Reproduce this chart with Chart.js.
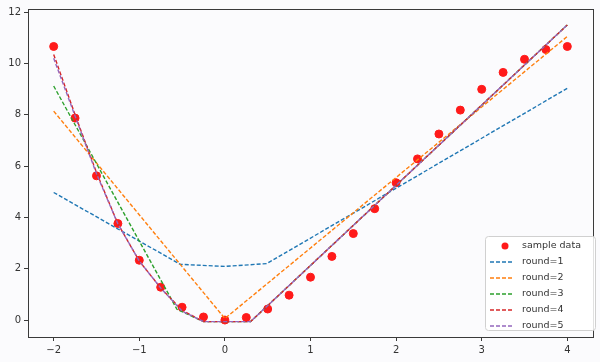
<!DOCTYPE html>
<html>
<head>
<meta charset="utf-8">
<script src="https://cdn.jsdelivr.net/npm/chart.js@4.4.0/dist/chart.umd.min.js"></script>
<style>
  html, body { margin: 0; padding: 0; background: #fbfbfd; }
  #wrap { width: 600px; height: 362px; }
</style>
</head>
<body>
<div id="wrap"><canvas id="grafico" width="600" height="362"></canvas></div>
<script>
// dados da amostra
const amostraX = [-2, -1.75, -1.5, -1.25, -1, -0.75, -0.5, -0.25, 0, 0.25, 0.5, 0.75, 1,
  1.25, 1.5, 1.75, 2, 2.25, 2.5, 2.75, 3, 3.25, 3.5, 3.75, 4];
const amostraY = [10.66, 7.87, 5.62, 3.76, 2.33, 1.28, 0.5, 0.12, 0, 0.1, 0.43, 0.97, 1.67,
  2.48, 3.37, 4.34, 5.35, 6.28, 7.25, 8.18, 8.99, 9.65, 10.16, 10.54, 10.66];

// previsões de cada rodada
const round1X = [-2, -0.52, 0, 0.49, 4];
const round1Y = [4.97, 2.17, 2.09, 2.2, 9.03];
const round2X = [-2, 0, 4];
const round2Y = [8.14, 0.06, 11.05];
const round3X = [-2, -0.56, -0.25, 0.3, 4];
const round3Y = [9.12, 0.42, -0.06, -0.06, 11.5];
const round4X = [-2, -1.75, -1.5, -1.25, -1, -0.75, -0.5, -0.25, 0.3, 4];
const round4Y = [10.35, 8.0, 5.75, 3.75, 2.3, 1.25, 0.38, -0.06, -0.06, 11.5];
const round5X = [-2, -1.75, -1.5, -1.25, -1, -0.75, -0.5, -0.25, 0.3, 4];
const round5Y = [10.2, 7.95, 5.7, 3.75, 2.3, 1.25, 0.35, -0.06, -0.06, 11.5];

const ticksX = [-2, -1, 0, 1, 2, 3, 4];
const ticksY = [0, 2, 4, 6, 8, 10, 12];

const rodadas = [
  { nome: 'round=1', x: round1X, y: round1Y, cor: '#1f77b4' },
  { nome: 'round=2', x: round2X, y: round2Y, cor: '#ff7f0e' },
  { nome: 'round=3', x: round3X, y: round3Y, cor: '#2ca02c' },
  { nome: 'round=4', x: round4X, y: round4Y, cor: '#d62728' },
  { nome: 'round=5', x: round5X, y: round5Y, cor: '#9467bd' }
];

const pares = (xs, ys) => xs.map((v, i) => ({ x: v, y: ys[i] }));

const datasets = [{
  label: 'sample data',
  data: pares(amostraX, amostraY),
  backgroundColor: '#ff1a1a',
  borderColor: '#ff1a1a',
  pointRadius: 4,
  showLine: false,
  order: 10
}];
rodadas.forEach((r, i) => {
  datasets.push({
    label: r.nome,
    data: pares(r.x, r.y),
    borderColor: r.cor,
    backgroundColor: r.cor,
    borderWidth: 1.4,
    borderDash: [4, 2],
    pointRadius: 0,
    showLine: true,
    order: 5 - i
  });
});

// moldura e legenda no estilo matplotlib
const moldura = {
  id: 'moldura',
  afterDraw(chart) {
    const { ctx, chartArea: a } = chart;
    ctx.save();
    ctx.strokeStyle = '#3a3a3a';
    ctx.lineWidth = 1;
    ctx.strokeRect(a.left + 0.5, a.top + 0.5, a.right - a.left, a.bottom - a.top);

    // legenda
    const bx = 485, by = 236, bw = 110, bh = 94;
    ctx.fillStyle = 'rgba(255,255,255,0.85)';
    ctx.strokeStyle = '#d0d0d0';
    ctx.beginPath();
    ctx.roundRect(bx + 0.5, by + 0.5, bw, bh, 3);
    ctx.fill();
    ctx.stroke();
    ctx.font = '9.5px "DejaVu Sans"';
    ctx.textBaseline = 'middle';
    const linhas = chart.data.datasets;
    linhas.forEach((d, i) => {
      const y = by + 10 + i * 16;
      if (i === 0) {
        ctx.fillStyle = d.backgroundColor;
        ctx.beginPath();
        ctx.arc(505, y, 3.5, 0, Math.PI * 2);
        ctx.fill();
      } else {
        ctx.strokeStyle = d.borderColor;
        ctx.lineWidth = 1.4;
        ctx.setLineDash([4, 2]);
        ctx.beginPath();
        ctx.moveTo(490, y);
        ctx.lineTo(514, y);
        ctx.stroke();
        ctx.setLineDash([]);
      }
      ctx.fillStyle = '#333';
      ctx.fillText(d.label, 522, y);
    });
    ctx.restore();
  }
};

new Chart(document.getElementById('grafico'), {
  type: 'scatter',
  data: { datasets },
  options: {
    responsive: false,
    animation: false,
    layout: { padding: { top: 7, right: 7, left: 0, bottom: 0 } },
    plugins: { legend: { display: false }, tooltip: { enabled: false } },
    scales: {
      x: {
        type: 'linear',
        min: -2.3,
        max: 4.3,
        afterBuildTicks: s => { s.ticks = ticksX.map(v => ({ value: v })); },
        afterFit: s => { s.height = 25; },
        border: { display: false },
        grid: { drawOnChartArea: false, drawTicks: true, tickLength: 4, color: '#3a3a3a' },
        ticks: { color: '#333', font: { family: 'DejaVu Sans', size: 10 }, padding: 3, maxRotation: 0,
          callback: v => v < 0 ? '\u2212' + Math.abs(v) : String(v) }
      },
      y: {
        type: 'linear',
        min: -0.66,
        max: 12.12,
        afterBuildTicks: s => { s.ticks = ticksY.map(v => ({ value: v })); },
        afterFit: s => { s.width = 28; },
        border: { display: false },
        grid: { drawOnChartArea: false, drawTicks: true, tickLength: 4, color: '#3a3a3a' },
        ticks: { color: '#333', font: { family: 'DejaVu Sans', size: 10 }, padding: 3 }
      }
    }
  },
  plugins: [moldura]
});
</script>
</body>
</html>
